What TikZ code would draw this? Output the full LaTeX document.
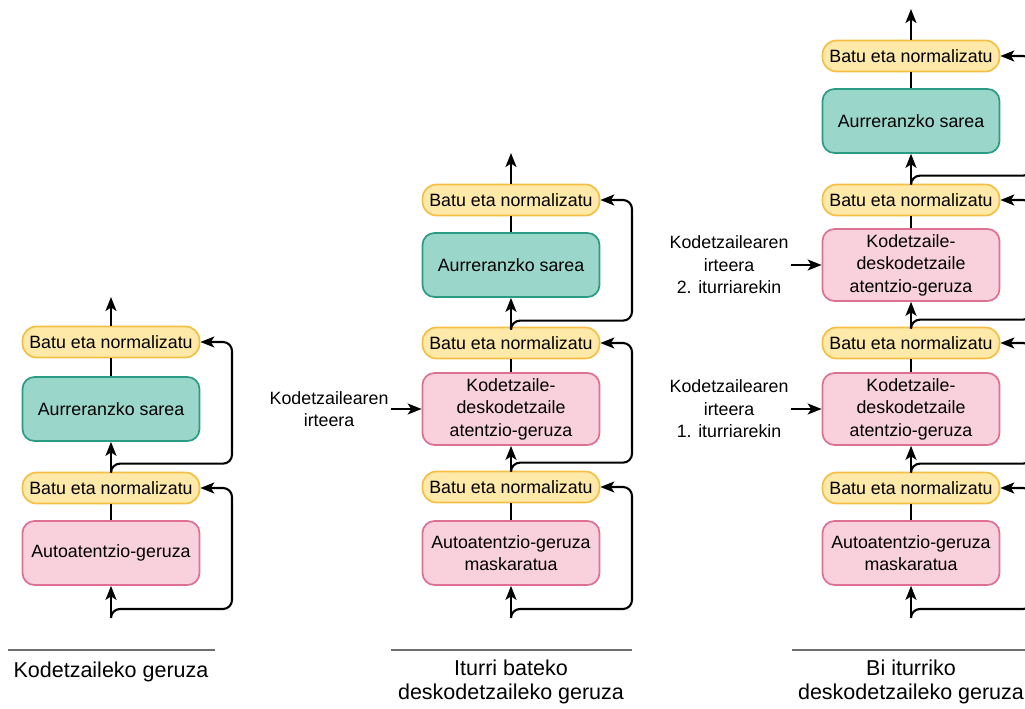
\documentclass[tikz,border=0pt]{standalone}
\usepackage{fontspec}
\setmainfont{Liberation Sans}
\usepackage{tikz}
\usetikzlibrary{arrows.meta,calc}
\usetikzlibrary{positioning}
\definecolor{normfill}{HTML}{FEE9A8}
\definecolor{normline}{HTML}{F4BF45}
\definecolor{ffnfill}{HTML}{9BD6CB}
\definecolor{ffnline}{HTML}{2B9C84}
\definecolor{attfill}{HTML}{F9D1DD}
\definecolor{attline}{HTML}{DE7094}
\definecolor{footgray}{HTML}{6F6F6F}
\newcommand{\boxfont}{\fontsize{17.8}{22.5}\selectfont}
\newcommand{\capfont}{\fontsize{21.5}{24.5}\selectfont}
\newcommand{\colshift}{400pt}

\begin{document}
\begin{tikzpicture}[x=1pt, y=1pt,
  addnorm/.style={draw=normline, fill=normfill, line width=1.7pt, rounded corners=14pt,
    minimum width=177pt, minimum height=31pt, inner sep=1pt, font=\boxfont},
  ffnbox/.style={draw=ffnline, fill=ffnfill, line width=1.7pt, rounded corners=12pt,
    minimum width=177pt, minimum height=64pt, inner sep=1pt, font=\boxfont, align=center},
  attbox/.style={draw=attline, fill=attfill, line width=1.7pt, rounded corners=12pt,
    minimum width=177pt, minimum height=64pt, inner sep=1pt, font=\boxfont, align=center},
  srclabel/.style={font=\boxfont, align=center, inner sep=2pt},
  caption/.style={font=\capfont, align=center, inner sep=0pt},
  link/.style={line width=2.1pt},
  flow/.style={link, -{Stealth[length=14pt, width=11pt, inset=3.5pt]}},
  resid/.style={flow, rounded corners=9pt},
  footline/.style={draw=footgray, line width=2pt}]
  % The frame:
  \useasboundingbox (0,0) rectangle (1025,-709);
  \clip (0,0) rectangle (1025,-709);

  \begin{scope}
    % Blocks:
    \node[attbox] (enc-att) at (111,-553) {Autoatentzio-geruza};
    \node[addnorm] (enc-an1) at (111,-488) {Batu eta normalizatu};
    \node[ffnbox] (enc-ffn) at (111,-409) {Aurreranzko sarea};
    \node[addnorm] (enc-an2) at (111,-342) {Batu eta normalizatu};
    \coordinate (enc-in) at (111,-618);
    \coordinate (enc-out) at (111,-297);
    % Links:
    \draw[flow] (enc-in) -- (enc-att.south);
    \draw[link] (enc-att.north) -- (enc-an1.south);
    \draw[flow] (enc-an1.north) -- (enc-ffn.south);
    \draw[link] (enc-ffn.north) -- (enc-an2.south);
    \draw[flow] (enc-an2.north) -- (enc-out);
    \draw[resid] (enc-in) |- ++(121,9) |- (enc-an1.east);
    \draw[resid] (enc-an1.north) |- ++(121,8) |- (enc-an2.east);
    % Labels:
    \draw[footline] (8,-650) -- (215,-650);
    \node[caption] (enc-name) at (111,-672) {Kodetzaileko geruza};
  \end{scope}

  \begin{scope}[xshift=\colshift]
    % Blocks:
    \node[attbox] (dec-att) at (111,-553) {Autoatentzio-geruza\\maskaratua};
    \node[addnorm] (dec-an1) at (111,-487) {Batu eta normalizatu};
    \node[attbox, minimum height=72pt] (dec-cross) at (111,-409)
      {Kodetzaile-\\deskodetzaile\\atentzio-geruza};
    \node[addnorm] (dec-an2) at (111,-343) {Batu eta normalizatu};
    \node[ffnbox] (dec-ffn) at (111,-265) {Aurreranzko sarea};
    \node[addnorm] (dec-an3) at (111,-200) {Batu eta normalizatu};
    \node[srclabel, left=31pt of dec-cross] (dec-src) {Kodetzailearen\\irteera};
    \coordinate (dec-in) at (111,-618);
    \coordinate (dec-out) at (111,-153);
    % Links:
    \draw[flow] (dec-in) -- (dec-att.south);
    \draw[link] (dec-att.north) -- (dec-an1.south);
    \draw[flow] (dec-an1.north) -- (dec-cross.south);
    \draw[link] (dec-cross.north) -- (dec-an2.south);
    \draw[flow] (dec-an2.north) -- (dec-ffn.south);
    \draw[link] (dec-ffn.north) -- (dec-an3.south);
    \draw[flow] (dec-an3.north) -- (dec-out);
    \draw[flow] (dec-src) -- (dec-cross);
    \draw[resid] (dec-in) |- ++(121,9) |- (dec-an1.east);
    \draw[resid] (dec-an1.north) |- ++(121,8) |- (dec-an2.east);
    \draw[resid] (dec-an2.north) |- ++(121,6) |- (dec-an3.east);
    % Labels:
    \draw[footline] (-9,-650) -- (232,-650);
    \node[caption] (dec-name) at (111,-682) {Iturri bateko\\deskodetzaileko geruza};
  \end{scope}

  \begin{scope}[xshift=2*\colshift]
    % Blocks:
    \node[attbox] (bi-att) at (111,-553) {Autoatentzio-geruza\\maskaratua};
    \node[addnorm] (bi-an1) at (111,-488) {Batu eta normalizatu};
    \node[attbox, minimum height=72pt] (bi-cross1) at (111,-409)
      {Kodetzaile-\\deskodetzaile\\atentzio-geruza};
    \node[addnorm] (bi-an2) at (111,-343) {Batu eta normalizatu};
    \node[attbox, minimum height=72pt] (bi-cross2) at (111,-265)
      {Kodetzaile-\\deskodetzaile\\atentzio-geruza};
    \node[addnorm] (bi-an3) at (111,-200) {Batu eta normalizatu};
    \node[ffnbox] (bi-ffn) at (111,-121) {Aurreranzko sarea};
    \node[addnorm] (bi-an4) at (111,-56) {Batu eta normalizatu};
    \node[srclabel, left=31pt of bi-cross1] (bi-src1)
      {Kodetzailearen\\irteera\\1. iturriarekin};
    \node[srclabel, left=31pt of bi-cross2] (bi-src2)
      {Kodetzailearen\\irteera\\2. iturriarekin};
    \coordinate (bi-in) at (111,-618);
    \coordinate (bi-out) at (111,-9);
    % Links:
    \draw[flow] (bi-in) -- (bi-att.south);
    \draw[link] (bi-att.north) -- (bi-an1.south);
    \draw[flow] (bi-an1.north) -- (bi-cross1.south);
    \draw[link] (bi-cross1.north) -- (bi-an2.south);
    \draw[flow] (bi-an2.north) -- (bi-cross2.south);
    \draw[link] (bi-cross2.north) -- (bi-an3.south);
    \draw[flow] (bi-an3.north) -- (bi-ffn.south);
    \draw[link] (bi-ffn.north) -- (bi-an4.south);
    \draw[flow] (bi-an4.north) -- (bi-out);
    \draw[flow] (bi-src1) -- (bi-cross1);
    \draw[flow] (bi-src2) -- (bi-cross2);
    \draw[resid] (bi-in) |- ++(121,9) |- (bi-an1.east);
    \draw[resid] (bi-an1.north) |- ++(121,8) |- (bi-an2.east);
    \draw[resid] (bi-an2.north) |- ++(121,7) |- (bi-an3.east);
    \draw[resid] (bi-an3.north) |- ++(121,8) |- (bi-an4.east);
    % Labels:
    \draw[footline] (-8,-650) -- (240,-650);
    \node[caption] (bi-name) at (111,-682) {Bi iturriko\\deskodetzaileko geruza};
  \end{scope}
\end{tikzpicture}
\end{document}
